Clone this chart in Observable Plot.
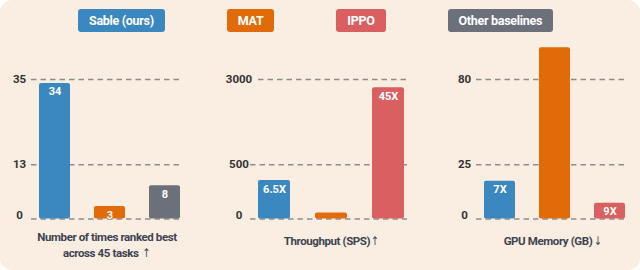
<!DOCTYPE html>
<html>
<head>
<meta charset="utf-8">
<script src="https://cdn.jsdelivr.net/npm/d3@7"></script>
<script src="https://cdn.jsdelivr.net/npm/@observablehq/plot@0.6"></script>
<style>
  html, body { margin: 0; padding: 0; background: #fff; }
  #wrap { position: relative; width: 640px; height: 270px; overflow: hidden; font-family: Roboto, "Liberation Sans", sans-serif; }
  #bg { position: absolute; left: 0; top: 0; width: 640px; height: 270px; border-radius: 12px; background: #faede2; }
  #legend { position: absolute; left: 78px; top: 9px; display: flex; gap: 62px; }
  .key { height: 23px; line-height: 23px; padding: 0 11px; border-radius: 3px; color: #fff; font-weight: 700; font-size: 12.5px; letter-spacing: -0.3px; white-space: nowrap; }
  .panel { position: absolute; left: 0; top: 0; }
  .title { position: absolute; transform: translateX(-50%); text-align: center; color: #3d4350; font-weight: 700; font-size: 11.5px; letter-spacing: -0.4px; line-height: 16px; white-space: nowrap; }
  .arrow { font-family: "DejaVu Sans", sans-serif; font-weight: 400; font-size: 12px; letter-spacing: 0; display: inline-block; transform: scaleX(0.8); }
</style>
</head>
<body>
<div id="wrap">
  <div id="bg"></div>
  <div id="legend"></div>
  <div id="p1" class="panel"></div>
  <div id="p2" class="panel"></div>
  <div id="p3" class="panel"></div>
  <div id="t1" class="title" style="left:107px; top:229px;"></div>
  <div id="t2" class="title" style="left:332px; top:233px;"></div>
  <div id="t3" class="title" style="left:553px; top:233px;"></div>
</div>
<script>
// ---- data ----
const seriesNames = ["Sable (ours)", "MAT", "IPPO", "Other baselines"];
const seriesColors = ["#3b87bf", "#e06b08", "#d95f60", "#6c707b"];

const rankCategories = ["Sable (ours)", "MAT", "Other baselines"];
const rankValues = [34, 3, 8];
const rankLabels = ["34", "3", "8"];
const rankTicks = [0, 13, 35];
const rankTitle = ["Number of times ranked best", "across 45 tasks "];
const rankArrow = "\u2191";

const tputCategories = ["Sable (ours)", "MAT", "IPPO"];
const tputValues = [355, 55, 2760];
const tputLabels = ["6.5X", "", "45X"];
const tputTicks = [0, 500, 3000];
const tputTitle = ["Throughput (SPS)"];
const tputArrow = "\u2191";

const memCategories = ["Sable (ours)", "MAT", "IPPO"];
const memValues = [17.4, 100.5, 7.3];
const memLabels = ["7X", "", "9X"];
const memTicks = [0, 25, 80];
const memTitle = ["GPU Memory (GB)"];
const memArrow = "\u2193";

// ---- legend ----
const legend = document.getElementById("legend");
seriesNames.forEach((n, i) => {
  const d = document.createElement("div");
  d.className = "key";
  d.style.background = seriesColors[i];
  d.textContent = n;
  legend.appendChild(d);
});

function panel(el, cats, values, labels, ticks, layout) {
  const data = cats.map((c, i) => ({cat: c, value: values[i], label: labels[i]}));
  const tickData = ticks.map((t, i) => ({t, i}));
  const chart = Plot.plot({
    width: 640,
    height: 270,
    marginLeft: layout.gridLeft,
    marginRight: 640 - layout.gridRight,
    marginTop: 0,
    marginBottom: 0,
    style: {background: "transparent", fontFamily: "Roboto, 'Liberation Sans', sans-serif", overflow: "visible"},
    x: {type: "band", domain: cats, range: layout.barRange, paddingInner: 0.44, paddingOuter: 0, axis: null},
    y: {type: "linear", domain: ticks, range: [218.5, 164.3, 79], axis: null},
    color: {domain: seriesNames, range: seriesColors},
    marks: [
      ...tickData.map(d => Plot.ruleY([d.t], {stroke: "#8d8d8d", strokeWidth: 1.5, strokeDasharray: "5.5,4", insetLeft: String(d.t).length > 3 ? 8 : 0})),
      Plot.text(tickData, {y: "t", text: d => String(d.t), frameAnchor: "left", dx: layout.labelDx, textAnchor: "middle", fill: "#333", fontWeight: "bold", fontSize: 11.5}),
      Plot.rectY(data, {x: "cat", y: "value", fill: "cat", rx: 2}),
      Plot.text(data.filter(d => d.label), {x: "cat", y: "value", text: "label", dy: 8.5, fill: "white", fontWeight: "bold", fontSize: 11})
    ]
  });
  el.appendChild(chart);
}

panel(document.getElementById("p1"), rankCategories, rankValues, rankLabels, rankTicks,
  {gridLeft: 31, gridRight: 180, barRange: [39, 180], labelDx: -12});
panel(document.getElementById("p2"), tputCategories, tputValues, tputLabels, tputTicks,
  {gridLeft: 250, gridRight: 407, barRange: [258, 404], labelDx: -11.5});
panel(document.getElementById("p3"), memCategories, memValues, memLabels, memTicks,
  {gridLeft: 476, gridRight: 624, barRange: [484, 625], labelDx: -12});

// zero-tick labels sit a little above the baseline
document.querySelectorAll(".panel svg g[aria-label=text]").forEach(g => {
  g.querySelectorAll("text").forEach(t => { if (t.textContent === "0") t.setAttribute("dy", "-3.5"); });
});

function setTitle(id, lines, arrow) {
  const el = document.getElementById(id);
  lines.forEach((line, i) => {
    if (i > 0) el.appendChild(document.createElement("br"));
    el.appendChild(document.createTextNode(line));
  });
  const a = document.createElement("span");
  a.className = "arrow";
  a.textContent = arrow;
  el.appendChild(a);
}
setTitle("t1", rankTitle, rankArrow);
setTitle("t2", tputTitle, tputArrow);
setTitle("t3", memTitle, memArrow);
</script>
</body>
</html>
